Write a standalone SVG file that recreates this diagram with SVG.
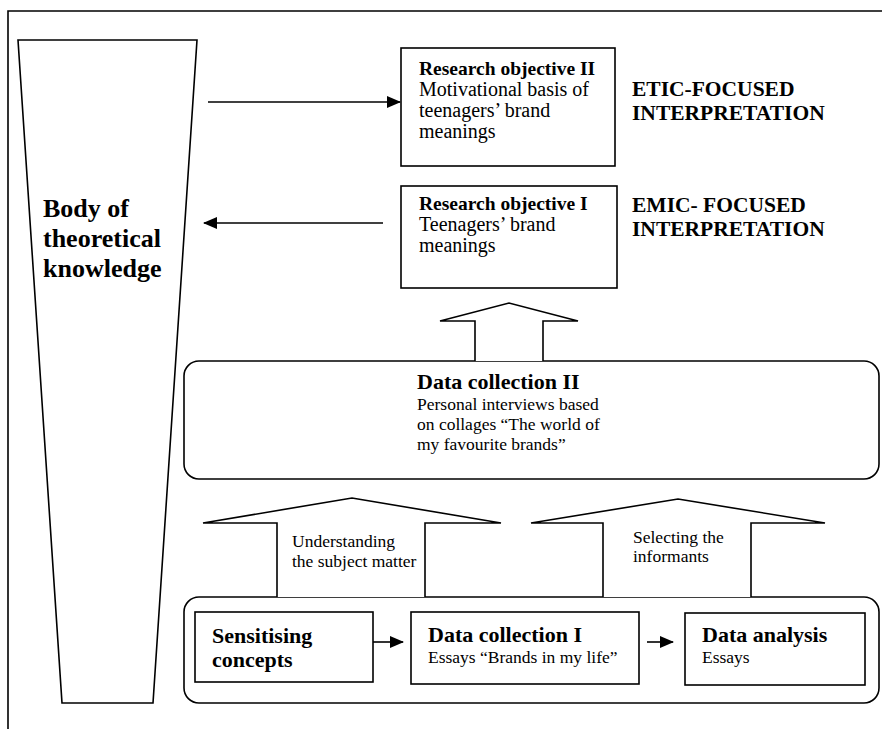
<svg xmlns="http://www.w3.org/2000/svg" width="882" height="729" viewBox="0 0 882 729">
<style>
.ln{fill:none;stroke:#000;stroke-width:1.6}
.bx{fill:#fff;stroke:#000;stroke-width:1.6}
.t{font-family:"Liberation Serif","Times New Roman",serif;fill:#000}
.b{font-weight:bold}
</style>
<defs>
<marker id="ah" markerUnits="userSpaceOnUse" markerWidth="14" markerHeight="12" refX="13" refY="6" orient="auto"><path d="M0,0 L14,6 L0,12 z" fill="#000"/></marker>
</defs>
<rect width="882" height="729" fill="#fff"/>
<g id="frame">
<path class="ln" d="M8,729 L8,11 L882,11"/>
</g>
<g id="body-knowledge">
<path class="bx" d="M18,40 L197,40 L153,703 L62,703 Z"/>
<text class="t b" font-size="26" x="43" y="217">Body of</text>
<text class="t b" font-size="26" x="43" y="247">theoretical</text>
<text class="t b" font-size="26" x="43" y="277">knowledge</text>
</g>
<g id="research-objective-2">
<rect class="bx" x="401" y="48" width="214" height="118"/>
<text class="t b" font-size="19.5" x="419" y="75">Research objective II</text>
<text class="t" font-size="20" x="419" y="96">Motivational basis of</text>
<text class="t" font-size="20" x="419" y="117">teenagers’ brand</text>
<text class="t" font-size="20" x="419" y="138">meanings</text>
</g>
<g id="research-objective-1">
<rect class="bx" x="401" y="186" width="216" height="102"/>
<text class="t b" font-size="19.5" x="419" y="210">Research objective I</text>
<text class="t" font-size="20" x="419" y="231">Teenagers’ brand</text>
<text class="t" font-size="20" x="419" y="252">meanings</text>
</g>
<g id="etic-label">
<text class="t b" font-size="21.5" x="632" y="96">ETIC-FOCUSED</text>
<text class="t b" font-size="21.5" x="632" y="120">INTERPRETATION</text>
</g>
<g id="emic-label">
<text class="t b" font-size="21.5" x="632" y="212">EMIC- FOCUSED</text>
<text class="t b" font-size="21.5" x="632" y="236">INTERPRETATION</text>
</g>
<g id="data-collection-2">
<rect class="bx" x="184" y="361" width="695" height="118" rx="15" ry="15"/>
<text class="t b" font-size="22" x="417" y="389">Data collection II</text>
<text class="t" font-size="17.5" x="417" y="410">Personal interviews based</text>
<text class="t" font-size="17.5" x="417" y="430">on collages “The world of</text>
<text class="t" font-size="17.5" x="417" y="450">my favourite brands”</text>
</g>
<g id="data-process">
<rect class="bx" x="184" y="597" width="695" height="106" rx="15" ry="15"/>
</g>
<g id="sensitising-concepts">
<rect class="bx" x="195" y="612" width="178" height="70"/>
<text class="t b" font-size="22" x="212" y="643">Sensitising</text>
<text class="t b" font-size="22" x="212" y="667">concepts</text>
</g>
<g id="data-collection-1">
<rect class="bx" x="411" y="612" width="228" height="72"/>
<text class="t b" font-size="22" x="428" y="642">Data collection I</text>
<text class="t" font-size="17.5" x="428" y="663">Essays “Brands in my life”</text>
</g>
<g id="data-analysis">
<rect class="bx" x="685" y="613" width="180" height="72"/>
<text class="t b" font-size="22" x="702" y="642">Data analysis</text>
<text class="t" font-size="17.5" x="702" y="663">Essays</text>
</g>
<g id="connectors">
<line class="ln" x1="208" y1="102" x2="400" y2="102" marker-end="url(#ah)"/>
<line class="ln" x1="383" y1="223" x2="204" y2="223" marker-end="url(#ah)"/>
<line class="ln" x1="373" y1="642" x2="403" y2="642" marker-end="url(#ah)"/>
<line class="ln" x1="647" y1="642" x2="673" y2="642" marker-end="url(#ah)"/>
<path class="bx" d="M475,361 L475,321 L440,321 L509,303 L578,321 L543,321 L543,361"/>
<path class="bx" d="M277,597 L277,523 L203,523 L352,498 L501,523 L425,523 L425,597"/>
<path class="bx" d="M603,597 L603,523 L531,523 L678,499 L825,523 L751,523 L751,597"/>
<text class="t" font-size="17.5" x="292" y="547">Understanding</text>
<text class="t" font-size="17.5" x="292" y="567">the subject matter</text>
<text class="t" font-size="17.5" x="633" y="543">Selecting the</text>
<text class="t" font-size="17.5" x="633" y="562">informants</text>
</g>
</svg>
